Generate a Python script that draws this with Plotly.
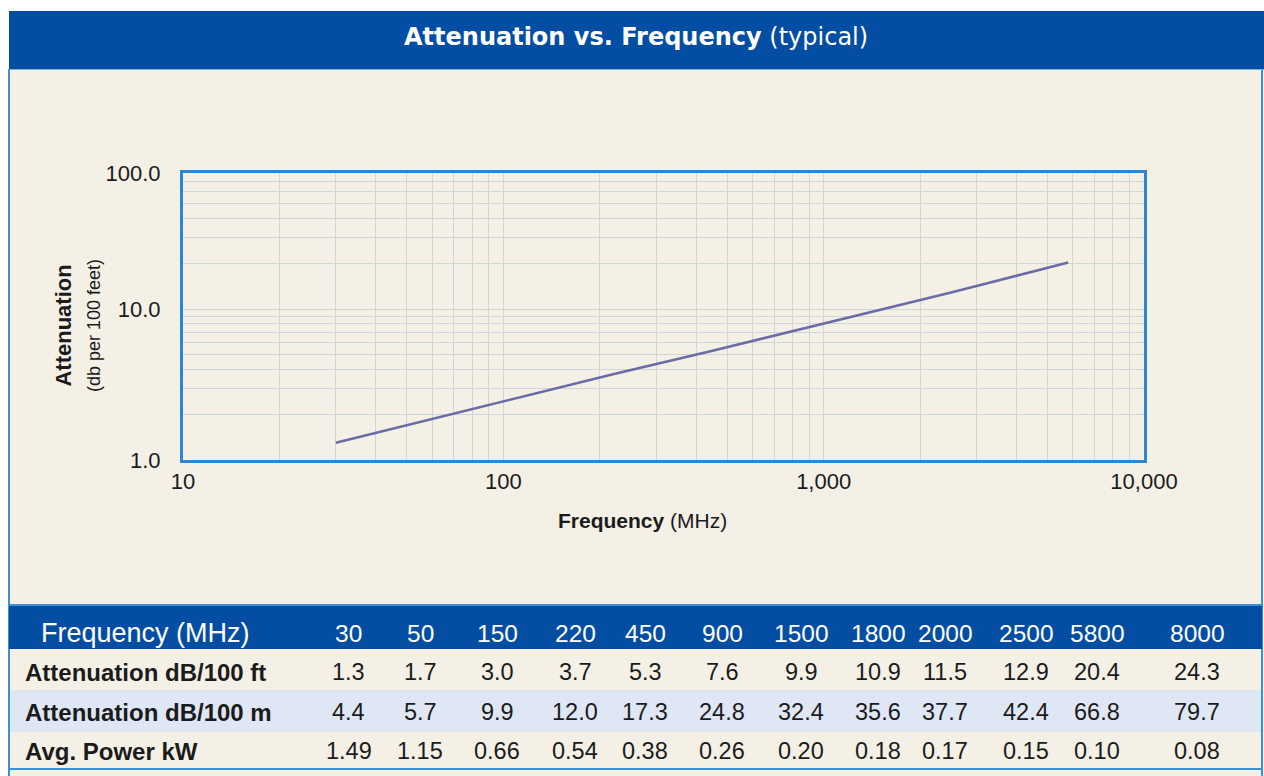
import math
import plotly.graph_objects as go

# ---------------- data ----------------
freq_mhz = [30, 50, 150, 220, 450, 900, 1500, 1800, 2000, 2500, 5800, 8000]
atten_db_100ft = [1.3, 1.7, 3.0, 3.7, 5.3, 7.6, 9.9, 10.9, 11.5, 12.9, 20.4, 24.3]
atten_db_100m = [4.4, 5.7, 9.9, 12.0, 17.3, 24.8, 32.4, 35.6, 37.7, 42.4, 66.8, 79.7]
avg_power_kw = [1.49, 1.15, 0.66, 0.54, 0.38, 0.26, 0.20, 0.18, 0.17, 0.15, 0.10, 0.08]
row_labels = ["Attenuation dB/100 ft", "Attenuation dB/100 m", "Avg. Power kW"]
header_label = "Frequency (MHz)"
x_tick_labels = {10: "10", 100: "100", 1000: "1,000", 10000: "10,000"}
y_tick_labels = {1: "1.0", 10: "10.0", 80: "100.0"}
curve_points = 11  # the drawn curve runs from 30 to 5800 MHz

# ---------------- layout helpers ----------------
W, H = 1264, 776
def px(x):
    return x / W
def py(y):
    return 1 - y / H

BLUE = "#034ea2"
CREAM = "#f4f0e6"
LIGHTROW = "#dfe6f4"
BORDER = "#3b90d4"
TXT = "#1b1b1b"
FONT = "Liberation Sans, Arial, sans-serif"

# grid positions (log decades with 1..9 subdivisions)
x_grid = [m * 10 ** d for d in range(1, 4) for m in range(1, 10)] + [10000]
y_grid = [m * 10 ** d for d in range(0, 2) for m in range(1, 10) if m * 10 ** d <= 80]

fig = go.Figure()
fig.add_trace(go.Scatter(
    x=freq_mhz[:curve_points], y=atten_db_100ft[:curve_points],
    mode="lines", line=dict(color="#6b6ca6", width=2.6),
    hoverinfo="x+y", showlegend=False,
))

shapes = []
# cream panel
shapes.append(dict(type="rect", xref="paper", yref="paper",
                   x0=px(8), x1=px(1263), y0=py(776), y1=py(69),
                   fillcolor=CREAM, line=dict(width=0), layer="below"))
# panel side borders
for xx in (9, 1262):
    shapes.append(dict(type="line", xref="paper", yref="paper",
                       x0=px(xx), x1=px(xx), y0=py(776), y1=py(69),
                       line=dict(color=BORDER, width=2), layer="below"))
# title bar
shapes.append(dict(type="rect", xref="paper", yref="paper",
                   x0=px(9), x1=px(1264), y0=py(69), y1=py(11),
                   fillcolor=BLUE, line=dict(width=0), layer="below"))
shapes.append(dict(type="line", xref="paper", yref="paper",
                   x0=px(9), x1=px(1264), y0=py(69.5), y1=py(69.5),
                   line=dict(color="#7fb0dc", width=1), layer="below"))
# table header
shapes.append(dict(type="rect", xref="paper", yref="paper",
                   x0=px(9), x1=px(1262), y0=py(649), y1=py(605),
                   fillcolor=BLUE, line=dict(width=0), layer="below"))
shapes.append(dict(type="line", xref="paper", yref="paper",
                   x0=px(9), x1=px(1262), y0=py(605), y1=py(605),
                   line=dict(color=BORDER, width=2), layer="below"))
# light row
shapes.append(dict(type="rect", xref="paper", yref="paper",
                   x0=px(10), x1=px(1261), y0=py(732), y1=py(690),
                   fillcolor=LIGHTROW, line=dict(width=0), layer="below"))
# table bottom border
shapes.append(dict(type="line", xref="paper", yref="paper",
                   x0=px(9), x1=px(1262), y0=py(769), y1=py(769),
                   line=dict(color=BORDER, width=2), layer="below"))

annotations = []
# chart title
annotations.append(dict(
    x=px(636), y=py(37), xref="paper", yref="paper", showarrow=False,
    xanchor="center", yanchor="middle",
    text="<b>Attenuation vs. Frequency</b> (typical)",
    font=dict(family="DejaVu Sans, Verdana, sans-serif", size=24, color="white"),
))
# y axis title
annotations.append(dict(
    x=px(77), y=py(326), xref="paper", yref="paper", showarrow=False,
    xanchor="center", yanchor="middle", textangle=-90,
    text="<b>Attenuation</b><br><span style='font-size:18px'>(db per 100 feet)</span>",
    font=dict(family=FONT, size=22, color=TXT),
))
# x axis title
annotations.append(dict(
    x=px(642), y=py(520), xref="paper", yref="paper", showarrow=False,
    xanchor="center", yanchor="middle",
    text="<b>Frequency</b> (MHz)",
    font=dict(family=FONT, size=21, color=TXT),
))

# table text
col_x = [349, 420, 497, 575, 645, 722, 801, 878, 945, 1026, 1097, 1197]
header_y, row_y = 633, [672, 712, 751]
annotations.append(dict(
    x=px(39), y=py(header_y), xref="paper", yref="paper", showarrow=False,
    xanchor="left", yanchor="middle", text=header_label,
    font=dict(family=FONT, size=27, color="white"),
))
for cx, f in zip(col_x, freq_mhz):
    annotations.append(dict(
        x=px(cx), y=py(header_y), xref="paper", yref="paper", showarrow=False,
        xanchor="center", yanchor="middle", text=str(f),
        font=dict(family=FONT, size=24.5, color="white"),
    ))
rows = [
    [f"{v:.1f}" for v in atten_db_100ft],
    [f"{v:.1f}" for v in atten_db_100m],
    [f"{v:.2f}" for v in avg_power_kw],
]
for ry, label, vals in zip(row_y, row_labels, rows):
    annotations.append(dict(
        x=px(23), y=py(ry), xref="paper", yref="paper", showarrow=False,
        xanchor="left", yanchor="middle", text=f"<b>{label}</b>",
        font=dict(family=FONT, size=24, color=TXT),
    ))
    for cx, v in zip(col_x, vals):
        annotations.append(dict(
            x=px(cx), y=py(ry), xref="paper", yref="paper", showarrow=False,
            xanchor="center", yanchor="middle", text=v,
            font=dict(family=FONT, size=23.5, color=TXT),
        ))

GRID = "#cdd6da"
fig.update_layout(
    width=W, height=H, autosize=False,
    margin=dict(l=0, r=0, t=0, b=0, pad=0, autoexpand=False),
    paper_bgcolor="white",
    plot_bgcolor="white",
    shapes=shapes,
    annotations=annotations,
    xaxis=dict(
        type="log", range=[1, 4], domain=[px(183), px(1144)],
        automargin=False,
        tickmode="array", tickvals=x_grid,
        ticktext=[x_tick_labels.get(v, "") for v in x_grid],
        showgrid=True, gridcolor=GRID, gridwidth=1,
        showline=True, mirror=True, linecolor="#2a88d2", linewidth=3,
        ticks="",
        tickfont=dict(family=FONT, size=22, color=TXT),
        zeroline=False, fixedrange=True,
    ),
    yaxis=dict(
        type="log", range=[0, math.log10(80)], domain=[py(460), py(173)],
        automargin=False,
        tickmode="array", tickvals=y_grid + [80],
        ticktext=[y_tick_labels.get(v, "") for v in y_grid + [80]],
        showgrid=True, gridcolor=GRID, gridwidth=1,
        showline=True, mirror=True, linecolor="#2a88d2", linewidth=3,
        ticks="outside", ticklen=15, tickcolor="rgba(0,0,0,0)",
        tickfont=dict(family=FONT, size=22, color=TXT),
        zeroline=False, fixedrange=True,
    ),
)

fig.write_html(
    "out.html",
    config={"displayModeBar": False},
    post_script="document.body.style.margin='0';document.body.style.overflow='hidden';",
)
